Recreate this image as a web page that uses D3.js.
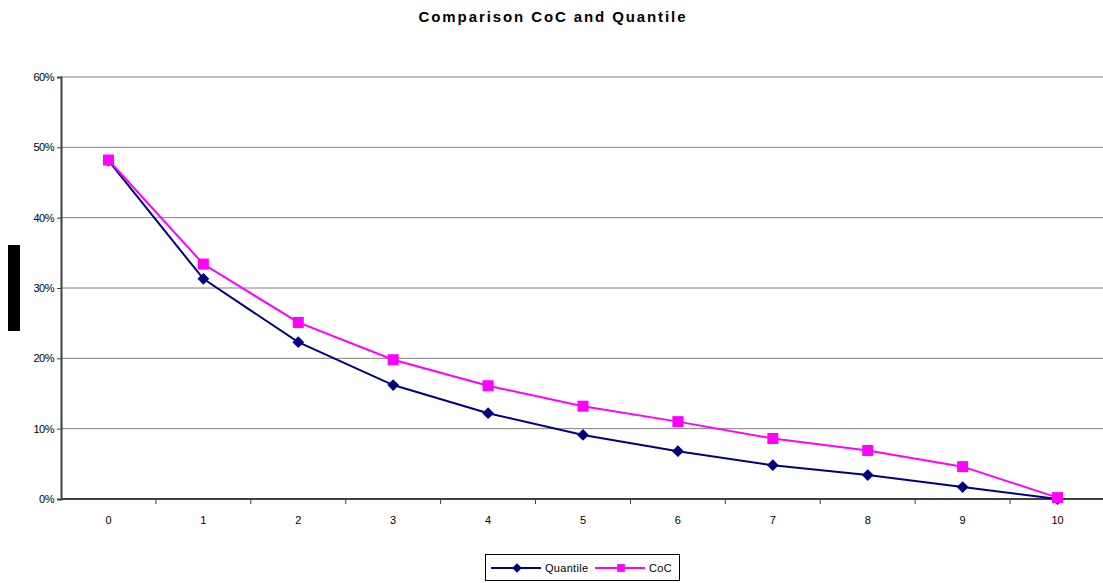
<!DOCTYPE html>
<html>
<head>
<meta charset="utf-8">
<script src="https://cdn.jsdelivr.net/npm/d3@7"></script>
<style>
  body { margin: 0; background: #fff; }
  text { font-family: "Liberation Sans", Arial, sans-serif; fill: #000; }
</style>
</head>
<body>
<svg id="canvas"></svg>
<script>
let width = 1103;
let height = 583;

const categories = ['0', '1', '2', '3', '4', '5', '6', '7', '8', '9', '10'];
const quantile = [0.481, 0.313, 0.223, 0.162, 0.122, 0.091, 0.068, 0.048, 0.034, 0.017, 0.0];
const coc = [0.482, 0.334, 0.251, 0.198, 0.161, 0.132, 0.110, 0.086, 0.069, 0.046, 0.002];
const yTicks = [0, 0.1, 0.2, 0.3, 0.4, 0.5, 0.6];

let plotLeft = 61, plotRight = 1105, plotTop = 77, plotBottom = 499;

let canvas = d3.select('#canvas').attr('width', width).attr('height', height);

let xScale = d3.scaleBand().domain(categories).range([plotLeft, plotRight]);
let yScale = d3.scaleLinear().domain([0, 0.6]).range([plotBottom, plotTop]);
let xc = (i) => xScale(categories[i]) + xScale.bandwidth() / 2;

// title
canvas.append('text')
  .attr('x', 553).attr('y', 22)
  .attr('text-anchor', 'middle')
  .style('font-size', '15px').style('font-weight', 'bold')
  .style('letter-spacing', '1.9px')
  .text('Comparison CoC and Quantile');

// gridlines
canvas.append('g')
  .selectAll('line')
  .data(yTicks.filter((d) => d > 0))
  .enter()
  .append('line')
  .attr('x1', plotLeft).attr('x2', width)
  .attr('y1', (d) => yScale(d)).attr('y2', (d) => yScale(d))
  .attr('stroke', '#808080').attr('stroke-width', 1);

// y axis
let yAxis = d3.axisLeft(yScale).tickValues(yTicks).tickFormat(d3.format('.0%')).tickSize(4).tickPadding(3);
let gy = canvas.append('g').attr('transform', `translate(${plotLeft}, 0)`).call(yAxis);
gy.select('.domain').attr('stroke', '#404040').attr('stroke-width', 2);
gy.selectAll('.tick line').attr('stroke', '#404040');
gy.selectAll('text').style('font-size', '11px').style('letter-spacing', '-0.5px');

// x axis
let xAxis = d3.axisBottom(xScale).tickSize(0).tickPadding(17);
let gx = canvas.append('g').attr('transform', `translate(0, ${plotBottom})`).call(xAxis);
gx.select('.domain').remove();
gx.selectAll('text').style('font-size', '11px');
canvas.append('line')
  .attr('x1', plotLeft).attr('x2', width)
  .attr('y1', plotBottom).attr('y2', plotBottom)
  .attr('stroke', '#404040').attr('stroke-width', 2);
canvas.append('g')
  .selectAll('line')
  .data(categories.slice(1))
  .enter()
  .append('line')
  .attr('x1', (d) => xScale(d)).attr('x2', (d) => xScale(d))
  .attr('y1', plotBottom).attr('y2', plotBottom + 5)
  .attr('stroke', '#404040');

// masked axis title block
canvas.append('rect')
  .attr('x', 8).attr('y', 245).attr('width', 12).attr('height', 86)
  .attr('fill', '#000');

let line = d3.line().x((d, i) => xc(i)).y((d) => yScale(d));

let diamond = d3.symbol().type(d3.symbolDiamond2).size(88);
let square = d3.symbol().type(d3.symbolSquare).size(121);

// Quantile series
canvas.append('path').datum(quantile)
  .attr('d', line).attr('fill', 'none')
  .attr('stroke', '#000080').attr('stroke-width', 2);
canvas.append('g').selectAll('path').data(quantile).enter().append('path')
  .attr('d', diamond)
  .attr('transform', (d, i) => `translate(${xc(i)}, ${yScale(d)})`)
  .attr('fill', '#000080');

// CoC series
canvas.append('path').datum(coc)
  .attr('d', line).attr('fill', 'none')
  .attr('stroke', '#FF00FF').attr('stroke-width', 2);
canvas.append('g').selectAll('path').data(coc).enter().append('path')
  .attr('d', square)
  .attr('transform', (d, i) => `translate(${xc(i)}, ${yScale(d)})`)
  .attr('fill', '#FF00FF');

// legend
let legend = canvas.append('g');
legend.append('rect')
  .attr('x', 485.5).attr('y', 554.5).attr('width', 194).attr('height', 26)
  .attr('fill', '#fff').attr('stroke', '#000');
let items = [
  { name: 'Quantile', color: '#000080', sym: diamond, x: 491 },
  { name: 'CoC', color: '#FF00FF', sym: square, x: 595 },
];
items.forEach((it) => {
  legend.append('line')
    .attr('x1', it.x).attr('x2', it.x + 50)
    .attr('y1', 568).attr('y2', 568)
    .attr('stroke', it.color).attr('stroke-width', 2);
  legend.append('path').attr('d', d3.symbol().type(it.sym === diamond ? d3.symbolDiamond2 : d3.symbolSquare).size(60))
    .attr('transform', `translate(${it.x + 26}, 568)`)
    .attr('fill', it.color);
  legend.append('text')
    .attr('x', it.x + 54).attr('y', 572)
    .style('font-size', '11px')
    .style('letter-spacing', '0.3px')
    .text(it.name);
});
</script>
</body>
</html>
